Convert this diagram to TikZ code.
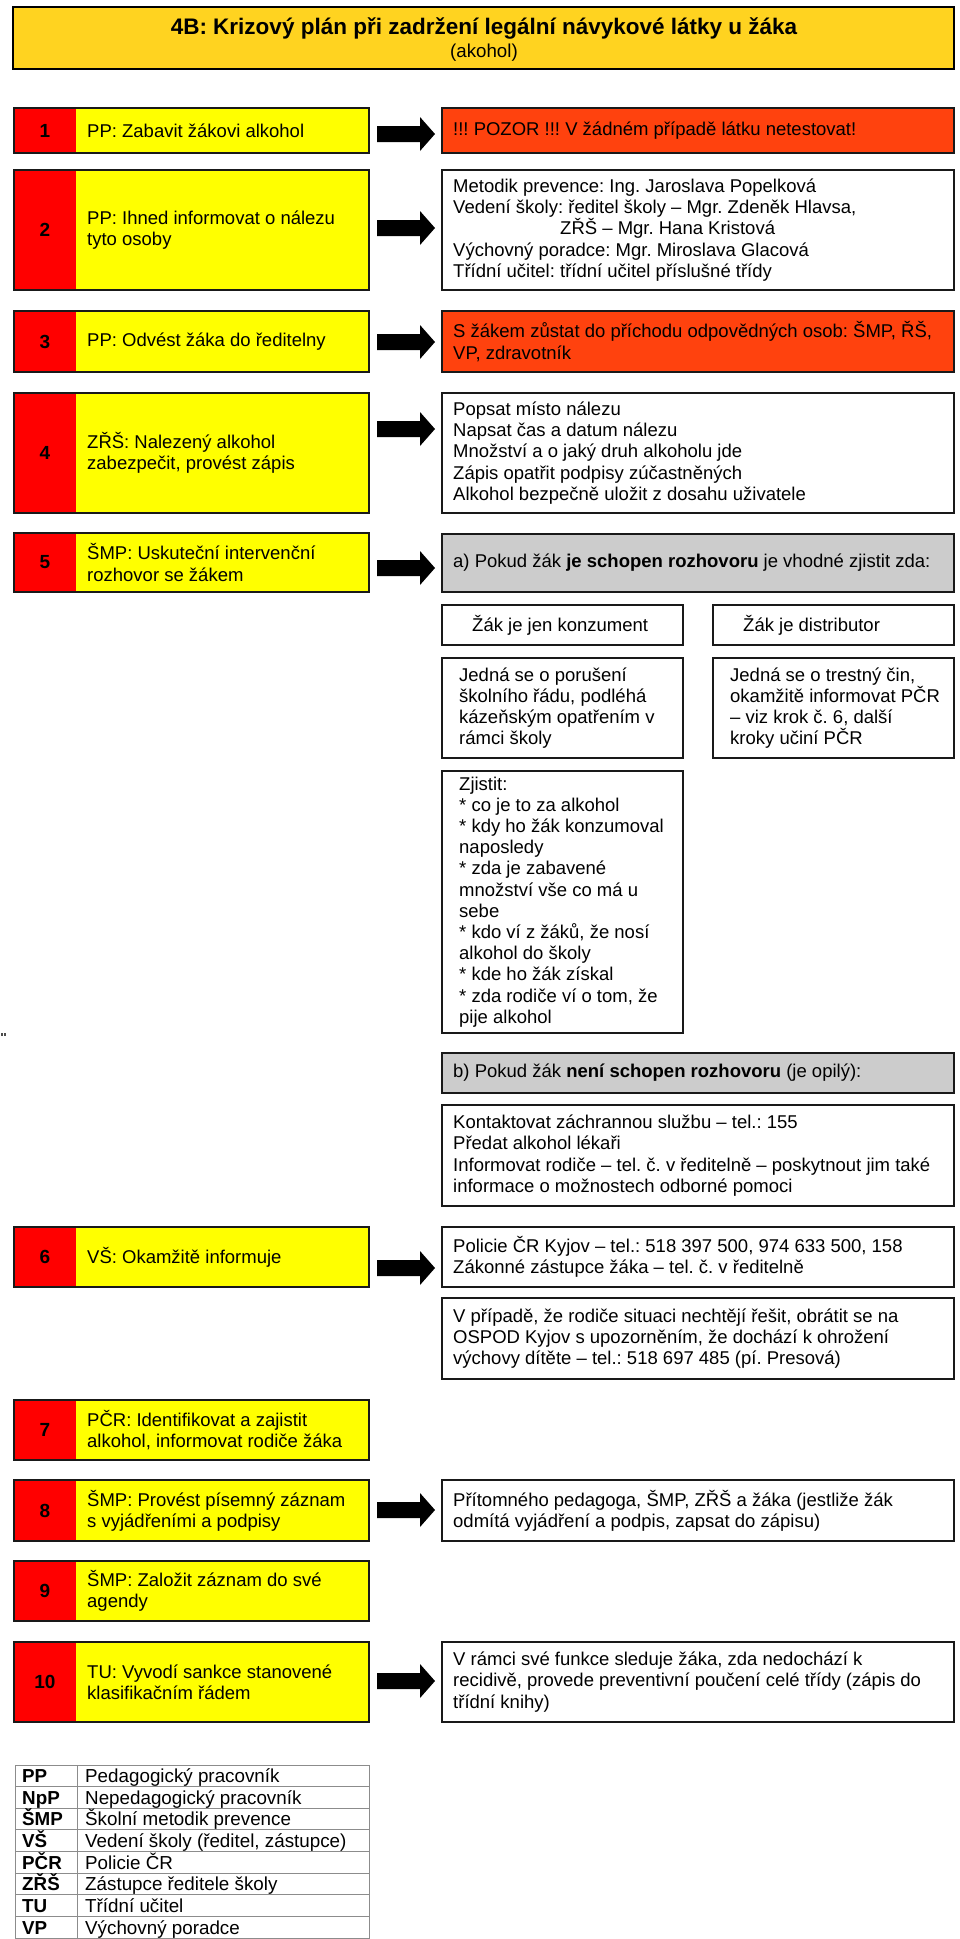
\documentclass[tikz,border=0pt]{standalone}
\usepackage{fontspec}
\setmainfont{Liberation Sans}
\definecolor{gold}{HTML}{FFD320}
\definecolor{orng}{HTML}{FF420E}
\definecolor{yel}{HTML}{FFFF00}
\definecolor{redc}{HTML}{FF0000}
\definecolor{grayf}{HTML}{CCCCCC}
\definecolor{lgline}{HTML}{8C8C8C}
\tikzset{
  boxline/.style={draw=black!90, line width=1.8pt},
  txt/.style={anchor=west, align=left, inner sep=0pt, font=\fontsize{18.5}{21.2}\selectfont},
  numlbl/.style={inner sep=0pt, font=\bfseries\fontsize{19}{22}\selectfont},
  lgtxt/.style={anchor=base west, inner sep=0pt, font=\fontsize{18.8}{21}\selectfont},
  lgbold/.style={anchor=base west, inner sep=0pt, font=\bfseries\fontsize{18.8}{21}\selectfont},
}
\newcommand\stepleft[5]{%
  \fill[yel] (14,#2) rectangle (369,#3);
  \fill[redc] (14,#2) rectangle (76,#3);
  \draw[boxline] (14,#2) rectangle (369,#3);
  \node[numlbl] (n#1) at (45,{(#2+#3)/2}) {#4};
  \node[txt] (l#1) at (87,{(#2+#3)/2}) {#5};
}
\newcommand\rightbox[5]{%
  \draw[boxline, fill=#4] (442,#2) rectangle (954,#3);
  \node[txt] (r#1) at (453,{(#2+#3)/2}) {#5};
}
\newcommand\blockarrow[1]{%
  \fill[black] (377,#1-8) -- (420,#1-8) -- (420,#1-17) -- (435,#1) -- (420,#1+17) -- (420,#1+8) -- (377,#1+8) -- cycle;
}
\begin{document}
\frenchspacing
\begin{tikzpicture}[x=1pt,y=-1pt]
\useasboundingbox[fill=white] (0,0) rectangle (960,1939);
% title
\draw[line width=2.5pt, fill=gold] (13,7) rectangle (954,69);
\node[font=\bfseries\fontsize{22.5}{26}\selectfont, inner sep=0pt] (title) at (484,28) {4B: Krizový plán při zadržení legální návykové látky u žáka};
\node[font=\fontsize{18.7}{22}\selectfont, inner sep=0pt] (subtitle) at (484,53) {(akohol)};

% row 1
\stepleft{1}{108}{153}{1}{PP: Zabavit žákovi alkohol}
\blockarrow{134}
\rightbox{1}{108}{153}{orng}{!!! POZOR !!! V žádném případě látku netestovat!}

% row 2
\stepleft{2}{170}{290}{2}{PP: Ihned informovat o nálezu\\tyto osoby}
\blockarrow{228}
\rightbox{2}{170}{290}{white}{Metodik prevence: Ing. Jaroslava Popelková\\Vedení školy: ředitel školy – Mgr. Zdeněk Hlavsa,\\\hspace*{107pt}ZŘŠ – Mgr. Hana Kristová\\Výchovný poradce: Mgr. Miroslava Glacová\\Třídní učitel: třídní učitel příslušné třídy}

% row 3
\stepleft{3}{311}{372}{3}{PP: Odvést žáka do ředitelny}
\blockarrow{342}
\rightbox{3}{311}{372}{orng}{S žákem zůstat do příchodu odpovědných osob: ŠMP, ŘŠ,\\VP, zdravotník}

% row 4
\stepleft{4}{393}{513}{4}{ZŘŠ: Nalezený alkohol\\zabezpečit, provést zápis}
\blockarrow{429}
\rightbox{4}{393}{513}{white}{Popsat místo nálezu\\Napsat čas a datum nálezu\\Množství a o jaký druh alkoholu jde\\Zápis opatřit podpisy zúčastněných\\Alkohol bezpečně uložit z dosahu uživatele}

% row 5
\stepleft{5}{533}{592}{5}{ŠMP: Uskuteční intervenční\\rozhovor se žákem}
\blockarrow{568}
\rightbox{5}{534}{592}{grayf}{a) Pokud žák \textbf{je schopen rozhovoru} je vhodné zjistit zda:}

% sub boxes
\draw[boxline] (442,605) rectangle (683,645);
\node[txt] (kons) at (472,625) {Žák je jen konzument};
\draw[boxline] (713,605) rectangle (954,645);
\node[txt] (dist) at (743,625) {Žák je distributor};
\draw[boxline] (442,658) rectangle (683,758);
\node[txt] (konsd) at (459,708) {Jedná se o porušení\\školního řádu, podléhá\\kázeňským opatřením v\\rámci školy};
\draw[boxline] (713,658) rectangle (954,758);
\node[txt] (distd) at (730,708) {Jedná se o trestný čin,\\okamžitě informovat PČR\\– viz krok č. 6, další\\kroky učiní PČR};
\draw[boxline] (442,771) rectangle (683,1033);
\node[txt] (zjistit) at (459,902) {Zjistit:\\* co je to za alkohol\\* kdy ho žák konzumoval\\naposledy\\* zda je zabavené\\množství vše co má u\\sebe\\* kdo ví z žáků, že nosí\\alkohol do školy\\* kde ho žák získal\\* zda rodiče ví o tom, že\\pije alkohol};

% b)
\rightbox{b}{1053}{1093}{grayf}{b) Pokud žák \textbf{není schopen rozhovoru} (je opilý):}
\rightbox{c}{1105}{1206}{white}{Kontaktovat záchrannou službu – tel.: 155\\Předat alkohol lékaři\\Informovat rodiče – tel. č. v ředitelně – poskytnout jim také\\informace o možnostech odborné pomoci}

% tiny marks
\fill[black!70] (1,1033) rectangle (3,1036);
\fill[black!70] (4,1033) rectangle (6,1036);

% row 6
\stepleft{6}{1227}{1287}{6}{VŠ: Okamžitě informuje}
\blockarrow{1268}
\rightbox{6}{1227}{1287}{white}{Policie ČR Kyjov – tel.: 518 397 500, 974 633 500, 158\\Zákonné zástupce žáka – tel. č. v ředitelně}
\rightbox{d}{1298}{1379}{white}{V případě, že rodiče situaci nechtějí řešit, obrátit se na\\OSPOD Kyjov s upozorněním, že dochází k ohrožení\\výchovy dítěte – tel.: 518 697 485 (pí. Presová)}

% row 7
\stepleft{7}{1400}{1460}{7}{PČR: Identifikovat a zajistit\\alkohol, informovat rodiče žáka}

% row 8
\stepleft{8}{1480}{1541}{8}{ŠMP: Provést písemný záznam\\s vyjádřeními a podpisy}
\blockarrow{1510}
\rightbox{8}{1480}{1541}{white}{Přítomného pedagoga, ŠMP, ZŘŠ a žáka (jestliže žák\\odmítá vyjádření a podpis, zapsat do zápisu)}

% row 9
\stepleft{9}{1561}{1621}{9}{ŠMP: Založit záznam do své\\agendy}

% row 10
\stepleft{10}{1642}{1722}{10}{TU: Vyvodí sankce stanovené\\klasifikačním řádem}
\blockarrow{1681}
\rightbox{10}{1642}{1722}{white}{V rámci své funkce sleduje žáka, zda nedochází k\\recidivě, provede preventivní poučení celé třídy (zápis do\\třídní knihy)}

% legend
\draw[lgline, line width=1pt] (15,1765) rectangle (369,1938);
\draw[lgline, line width=1pt] (77,1765) -- (77,1938);
\foreach \k in {1,...,7} {
  \draw[lgline, line width=1pt] (15,{1765+\k*21.65}) -- (369,{1765+\k*21.65});
}
\foreach \ab/\full [count=\i from 0] in {PP/Pedagogický pracovník, NpP/Nepedagogický pracovník, ŠMP/Školní metodik prevence, VŠ/{Vedení školy (ředitel, zástupce)}, PČR/Policie ČR, ZŘŠ/Zástupce ředitele školy, TU/Třídní učitel, VP/Výchovný poradce} {
  \node[lgbold] (ab\i) at (22,{1765+\i*21.65+17.5}) {\ab};
  \node[lgtxt] (fu\i) at (85,{1765+\i*21.65+17.5}) {\full};
}
\end{tikzpicture}
\end{document}
